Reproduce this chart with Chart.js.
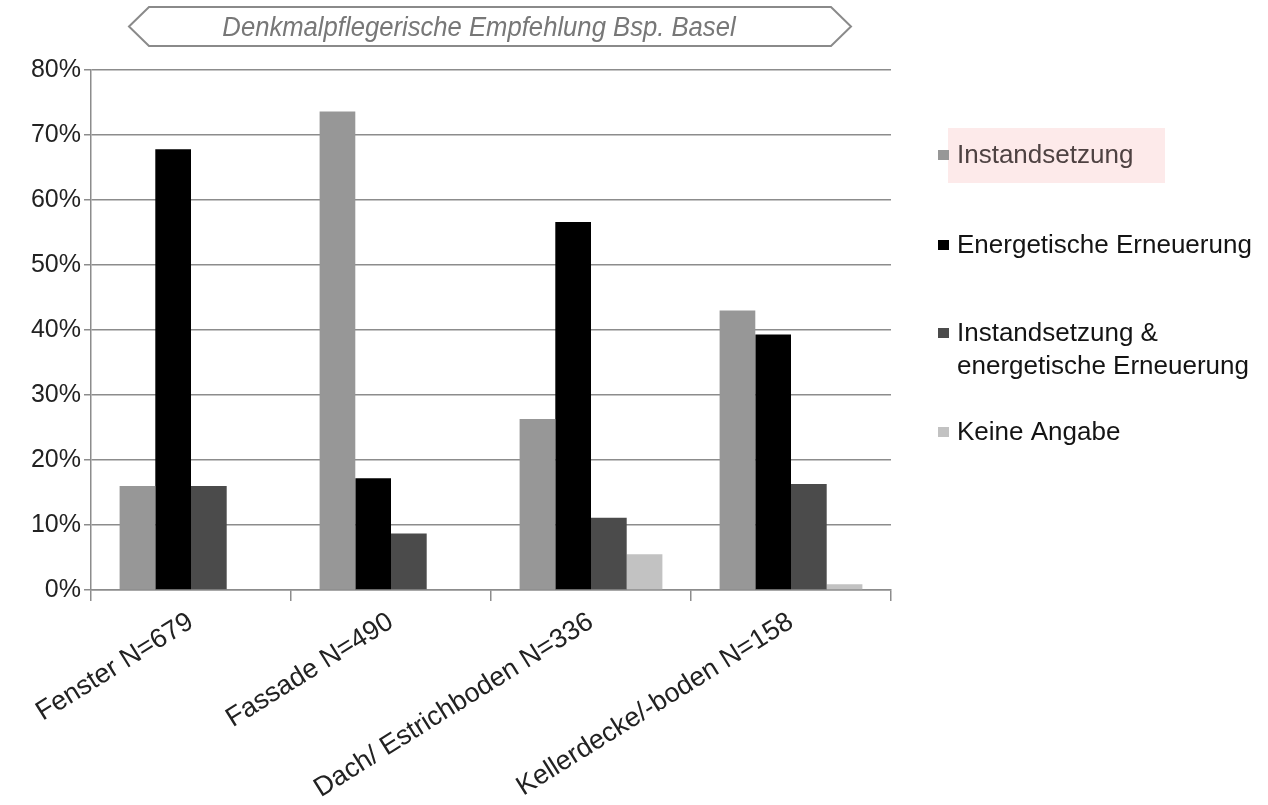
<!DOCTYPE html>
<html lang="de">
<head>
<meta charset="utf-8">
<title>Denkmalpflegerische Empfehlung Bsp. Basel</title>
<script src="https://cdn.jsdelivr.net/npm/chart.js@4/dist/chart.umd.min.js"></script>
<style>
  html, body { margin: 0; padding: 0; background: #ffffff; }
  #wrap { width: 1268px; height: 805px; position: relative; }
  canvas { display: block; }
</style>
</head>
<body>
<div id="wrap"><canvas id="chart" width="1268" height="805"></canvas></div>
<script>
// Bauteile mit Stichprobengrösse
const categories = ['Fenster N=679', 'Fassade N=490', 'Dach/ Estrichboden N=336', 'Kellerdecke/-boden N=158'];

// Anteile in Prozent je Empfehlung
const instandsetzung = [16.0, 73.6, 26.3, 43.0];
const energetischeErneuerung = [67.8, 17.2, 56.6, 39.3];
const instandsetzungUndErneuerung = [16.0, 8.7, 11.1, 16.3];
const keineAngabe = [0, 0, 5.5, 0.9];

const seriesNames = ['Instandsetzung', 'Energetische Erneuerung', 'Instandsetzung & energetische Erneuerung', 'Keine Angabe'];
const seriesColors = ['#979797', '#000000', '#4b4b4b', '#c2c2c2'];

// Achsenbeschriftung
const yTicks = [0, 10, 20, 30, 40, 50, 60, 70, 80];
const titleText = 'Denkmalpflegerische Empfehlung Bsp. Basel';

const FONT = '"Liberation Sans", Arial, Helvetica, sans-serif';

// Titelband: sechseckiger Pfeilrahmen mit kursivem, schmal laufendem Text
const titleBanner = {
  id: 'titleBanner',
  afterDraw(chart) {
    const ctx = chart.ctx;
    const top = 7, bottom = 46, mid = (top + bottom) / 2;
    const left = 129, right = 851, inset = 20;
    ctx.save();
    ctx.beginPath();
    ctx.moveTo(left, mid);
    ctx.lineTo(left + inset, top);
    ctx.lineTo(right - inset, top);
    ctx.lineTo(right, mid);
    ctx.lineTo(right - inset, bottom);
    ctx.lineTo(left + inset, bottom);
    ctx.closePath();
    ctx.fillStyle = '#ffffff';
    ctx.fill();
    ctx.strokeStyle = '#8a8a8a';
    ctx.lineWidth = 2;
    ctx.stroke();
    ctx.fillStyle = '#777777';
    ctx.font = 'italic 27px ' + FONT;
    ctx.textAlign = 'center';
    ctx.textBaseline = 'middle';
    ctx.translate(479, mid + 2);
    ctx.scale(0.95, 1);
    ctx.fillText(titleText, 0, 0);
    ctx.restore();
  }
};

// Legende rechts mit Zeilenumbruch für lange Einträge
const sideLegend = {
  id: 'sideLegend',
  afterDraw(chart) {
    const ctx = chart.ctx;
    const x = 938, textX = 957, maxW = 310, lineH = 33;
    const rowY = [156, 246, 334, 433];
    ctx.save();
    ctx.font = '26px ' + FONT;
    ctx.textBaseline = 'middle';
    ctx.textAlign = 'left';
    chart.data.datasets.forEach((ds, i) => {
      const words = ds.label.split(' ');
      const lines = [];
      let cur = '';
      words.forEach(w => {
        const test = cur ? cur + ' ' + w : w;
        if (ctx.measureText(test).width > maxW && cur) { lines.push(cur); cur = w; }
        else cur = test;
      });
      lines.push(cur);
      const y = rowY[i];
      if (i === 0) {
        ctx.fillStyle = '#fdeaea';
        ctx.fillRect(948, y - 28, 217, 55);
      }
      ctx.fillStyle = ds.backgroundColor;
      ctx.fillRect(x, y - 6, 11, 10);
      ctx.fillStyle = i === 0 ? '#4e4242' : '#141414';
      lines.forEach((ln, k) => ctx.fillText(ln, textX, y + k * lineH));
    });
    ctx.restore();
  }
};

const datasets = [instandsetzung, energetischeErneuerung, instandsetzungUndErneuerung, keineAngabe]
  .map((values, i) => ({
    label: seriesNames[i],
    data: values,
    backgroundColor: seriesColors[i],
    borderWidth: 0,
    barPercentage: 1.0,
    categoryPercentage: 0.714
  }));

new Chart(document.getElementById('chart'), {
  type: 'bar',
  data: { labels: categories, datasets },
  plugins: [titleBanner, sideLegend],
  options: {
    responsive: false,
    devicePixelRatio: 1,
    animation: false,
    layout: { padding: { top: 70, right: 377, left: 0, bottom: 0 } },
    plugins: {
      legend: { display: false },
      title: { display: false },
      tooltip: { enabled: false }
    },
    scales: {
      x: {
        offset: true,
        grid: {
          display: true,
          offset: true,
          drawOnChartArea: false,
          drawTicks: true,
          tickLength: 11,
          color: '#8c8c8c',
          lineWidth: 1.5
        },
        border: { display: true, color: '#8c8c8c', width: 1.5 },
        ticks: {
          minRotation: 32,
          maxRotation: 32,
          autoSkip: false,
          padding: 5,
          color: '#222222',
          font: { family: FONT, size: 27 }
        },
        afterFit(scale) { scale.height = 215; }
      },
      y: {
        min: 0,
        max: 80,
        afterBuildTicks(scale) { scale.ticks = yTicks.map(v => ({ value: v })); },
        grid: {
          color: '#8c8c8c',
          lineWidth: 1.5,
          tickLength: 7,
          drawTicks: true
        },
        border: { display: true, color: '#8c8c8c', width: 1.5 },
        ticks: {
          padding: 3,
          color: '#222222',
          font: { family: FONT, size: 25 },
          callback: v => v + '%'
        },
        afterFit(scale) { scale.width = 91; }
      }
    }
  }
});
</script>
</body>
</html>
